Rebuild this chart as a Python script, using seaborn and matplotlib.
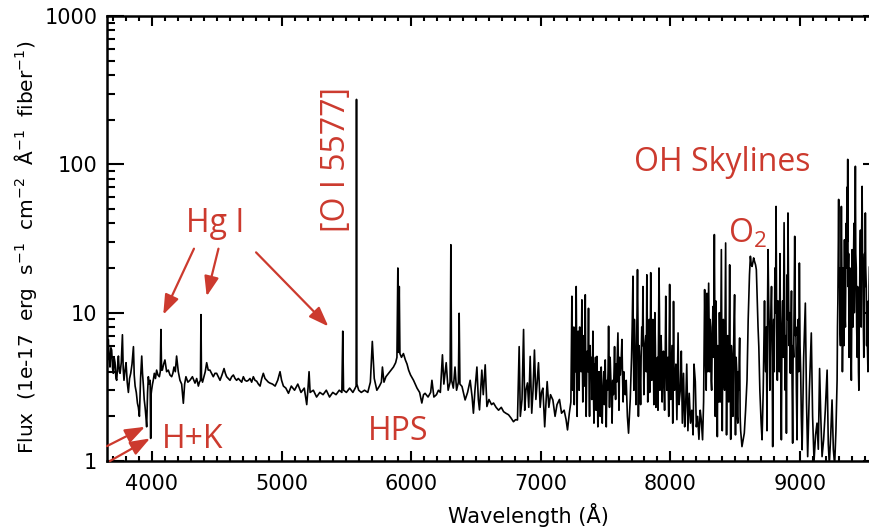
import matplotlib
matplotlib.use('Agg')
import matplotlib.pyplot as plt
import matplotlib.ticker as mticker
import seaborn as sns
import pandas as pd

# ---------------------------------------- spectrum ----------------------------------------
# wavelength (Angstrom) and flux (1e-17 erg/s/cm2/A/fiber), one piece of the spectrum per pair of lists

blue_wave = [3651, 3657, 3663, 3670, 3676, 3683, 3689, 3696, 3702, 3708,
             3715, 3722, 3728, 3735, 3741, 3748, 3754, 3763, 3772, 3778,
             3784, 3792, 3800, 3809, 3818, 3827, 3836, 3846, 3857, 3863,
             3870, 3879, 3888, 3895, 3903, 3912, 3921, 3927, 3934, 3940,
             3947, 3953, 3959, 3966, 3972, 3978, 3986, 3988, 3990, 3993,
             3997, 4004, 4010, 4018, 4027, 4036, 4046, 4057, 4064, 4069,
             4074, 4080, 4090, 4100, 4113, 4126, 4139, 4152, 4161, 4170,
             4180, 4190, 4203, 4216, 4229, 4242, 4252, 4262, 4277, 4293,
             4312, 4332, 4345, 4358, 4366, 4374, 4378, 4382, 4390, 4401,
             4411, 4422, 4434, 4447, 4460, 4473, 4486, 4499, 4512, 4525,
             4540, 4556, 4566, 4576, 4589, 4602, 4615, 4628, 4641, 4653,
             4666, 4679, 4692, 4705, 4718, 4731, 4744, 4756, 4769, 4782,
             4795, 4808, 4821, 4834, 4847, 4859, 4872, 4885, 4898, 4911,
             4930, 4950, 4970, 4988, 5000, 5014, 5033]
blue_flux = [5.9, 4.8, 6.6, 4.9, 4.3, 5.8, 5.6, 4.2, 3.9, 5.0,
             4.6, 3.6, 3.5, 4.4, 5.1, 4.0, 3.9, 4.6, 7.1, 4.2,
             3.5, 4.1, 4.6, 3.4, 2.9, 3.6, 3.9, 4.5, 5.9, 3.8,
             3.2, 2.9, 2.45, 2.3, 2.0, 3.6, 5.1, 3.9, 3.2, 2.6,
             2.3, 2.0, 1.7, 2.9, 3.7, 3.3, 3.5, 2.2, 1.42, 2.8,
             3.0, 3.3, 3.5, 3.9, 3.6, 4.1, 3.8, 3.7, 4.0, 7.7,
             4.1, 4.1, 4.5, 4.8, 4.0, 4.1, 3.8, 3.7, 3.9, 4.3,
             4.0, 5.1, 4.0, 3.5, 3.3, 2.45, 3.3, 3.7, 3.4, 3.5,
             3.7, 3.35, 3.6, 3.2, 3.4, 3.5, 9.7, 3.6, 3.4, 3.7,
             4.0, 4.6, 4.1, 4.1, 3.9, 3.7, 3.9, 3.9, 3.7, 3.5,
             3.8, 4.2, 3.9, 3.7, 3.6, 3.5, 3.7, 3.8, 3.6, 3.5,
             3.6, 3.5, 3.4, 3.7, 3.5, 3.45, 3.5, 3.6, 3.4, 3.7,
             3.5, 3.45, 3.3, 3.2, 3.6, 3.9, 3.6, 3.5, 3.4, 3.35,
             3.3, 3.2, 3.5, 4.0, 3.5, 3.2, 3.1]

green_wave = [5053, 5075, 5100, 5125, 5150, 5175, 5194, 5204, 5212, 5220,
              5245, 5270, 5295, 5320, 5345, 5370, 5395, 5420, 5445, 5465,
              5472, 5478, 5500, 5525, 5550, 5568, 5575, 5578, 5581, 5595,
              5615, 5640, 5665, 5685, 5700, 5715, 5735, 5755, 5770, 5778,
              5790, 5805, 5825, 5845, 5863, 5880, 5890, 5897, 5902, 5908,
              5913, 5925, 5940, 5955, 5968, 5980, 5995, 6018, 6045, 6065,
              6082, 6095, 6107, 6130, 6150, 6160, 6175, 6195, 6210, 6225,
              6241, 6252, 6270, 6285, 6300, 6306, 6312, 6325, 6338, 6350,
              6364, 6370, 6376, 6392, 6416, 6435, 6455, 6470, 6480]
green_flux = [2.86, 3.2, 3.0, 3.3, 2.9, 3.1, 2.4, 3.1, 4.0, 2.9,
              3.0, 2.7, 2.9, 2.8, 3.0, 2.7, 2.9, 2.8, 3.0, 2.9,
              7.5, 3.0, 2.9, 3.1, 2.9, 3.1, 3.2, 274, 3.3, 3.0,
              2.9, 3.0, 2.9, 3.4, 6.4, 3.6, 3.0, 3.2, 3.4, 4.3,
              3.4, 3.7, 3.9, 4.1, 4.3, 4.6, 5.0, 20, 5.4, 15,
              5.3, 5.0, 5.3, 4.8, 4.5, 4.1, 3.8, 3.5, 3.1, 2.9,
              2.46, 2.8, 2.86, 2.7, 2.9, 3.5, 2.7, 2.8, 3.0, 2.9,
              5.2, 3.3, 4.6, 3.0, 3.4, 28.7, 3.5, 3.1, 4.3, 3.0,
              3.4, 9.9, 3.3, 3.18, 2.58, 2.9, 3.5, 2.7, 2.1]

red_wave = [6492, 6507, 6518, 6527, 6545, 6556, 6571, 6584, 6600, 6620,
            6635, 6655, 6674, 6695, 6713, 6730, 6751, 6770, 6789, 6805,
            6820, 6833, 6842, 6855, 6867, 6876, 6885, 6897, 6907, 6918,
            6930, 6940, 6951, 6962, 6972, 6982, 6995, 7005, 7016, 7030,
            7049, 7062, 7075, 7093, 7110, 7125, 7144, 7160, 7180, 7195,
            7206, 7220, 7232]
red_flux = [3.0, 4.3, 2.6, 2.21, 4.1, 2.8, 4.45, 2.33, 2.6, 2.4,
            2.46, 2.3, 2.2, 2.3, 2.15, 2.1, 2.05, 1.95, 1.84, 1.9,
            1.89, 5.9, 2.0, 2.6, 7.7, 2.2, 3.0, 3.36, 2.3, 5.07,
            2.1, 3.0, 5.6, 2.6, 3.4, 4.6, 2.3, 2.9, 3.1, 1.7,
            3.43, 2.3, 2.8, 2.58, 2.0, 2.4, 2.6, 2.1, 2.2, 1.9,
            1.62, 2.1, 2.5]

# OH forest: the strongest lines and the gaps between them
oh1_wave = [7240, 7246, 7252, 7258, 7265, 7273, 7280, 7288, 7296, 7305,
            7317, 7324, 7330, 7337, 7343, 7350, 7358, 7368, 7376, 7384,
            7393, 7402, 7410, 7418, 7426, 7433, 7440, 7450, 7458, 7466,
            7474, 7482, 7490, 7497, 7505, 7515, 7523, 7530, 7540, 7550,
            7560, 7569, 7577, 7585, 7595, 7603, 7613, 7626, 7635, 7645,
            7659, 7668, 7677, 7690, 7700, 7711, 7718, 7726, 7734, 7746,
            7753, 7760, 7770, 7779, 7788, 7795, 7803, 7818, 7825, 7833,
            7840, 7848, 7856, 7865, 7872, 7880, 7888, 7896, 7904, 7912,
            7919, 7928, 7936, 7946, 7955, 7964, 7972, 7980, 7987, 7994,
            8002, 8012, 8018, 8024, 8032, 8042, 8050, 8059, 8066, 8076,
            8084, 8092, 8101, 8110, 8118, 8126, 8135, 8145, 8155, 8165,
            8175, 8182, 8192, 8200, 8210, 8220, 8230, 8238, 8248, 8256,
            8264, 8270, 8276, 8282, 8288, 8295]
oh1_flux = [12.9, 3.0, 4.5, 2.4, 6.5, 15, 2.0, 7.5, 3.0, 5.0,
            12.2, 2.5, 6.0, 3.2, 13.2, 2.0, 5.5, 10.7, 2.0, 4.0,
            2.6, 7.5, 1.8, 3.5, 2.2, 5.07, 1.7, 3.0, 2.0, 4.3,
            1.8, 3.2, 2.4, 4.8, 1.7, 3.0, 8.1, 2.3, 3.6, 1.8,
            2.8, 5.9, 2.6, 3.4, 7.3, 2.2, 3.8, 6.6, 2.5, 3.2,
            3.5, 2.0, 1.54, 2.6, 5.0, 17.6, 3.0, 6.0, 2.4, 19.5,
            2.0, 5.5, 2.4, 8.0, 15, 2.8, 6.0, 18, 2.5, 6.5,
            2.9, 18.6, 3.5, 9.0, 2.4, 10, 2.3, 4.0, 2.2, 20,
            3.0, 7.0, 2.5, 5.5, 2.2, 12.9, 3.0, 5.0, 2.0, 15.5,
            2.6, 6.0, 1.8, 11.9, 3.0, 4.5, 1.9, 7.3, 2.4, 3.0,
            5.5, 1.8, 3.9, 1.7, 2.4, 4.5, 1.6, 2.86, 1.8, 2.2,
            1.5, 4.5, 3.43, 1.7, 2.0, 1.4, 2.2, 1.89, 1.39, 2.5,
            14.3, 5.0, 3.0, 13.5, 4.0, 15.8]

oh2_wave = [8302, 8310, 8318, 8328, 8339, 8346, 8355, 8362, 8370, 8378,
            8385, 8393, 8400, 8408, 8418, 8426, 8433, 8442, 8450, 8457,
            8465, 8474, 8482, 8490, 8495, 8502, 8512, 8520, 8528, 8534,
            8542, 8552, 8562, 8570, 8580, 8591, 8600, 8610, 8617, 8624,
            8630, 8637, 8642, 8650, 8657, 8663, 8670, 8676, 8682, 8690,
            8700, 8707, 8716, 8726, 8735, 8745, 8753, 8762, 8771, 8780,
            8789, 8797, 8806, 8815, 8825, 8835, 8845, 8856, 8866, 8877,
            8886, 8895, 8901, 8907, 8916, 8925, 8934, 8943, 8951, 8959,
            8968, 8977, 8986, 8995, 9005, 9016, 9028, 9041, 9050, 9059,
            9072, 9087, 9097, 9108, 9120, 9131, 9141, 9151, 9160, 9170,
            9182, 9195, 9209, 9218, 9226, 9237, 9247, 9257, 9267, 9277,
            9286, 9292, 9298, 9305, 9312, 9319, 9324, 9329, 9336, 9343,
            9350, 9356, 9362, 9368, 9375, 9382, 9389, 9396, 9402, 9409,
            9416, 9422, 9427, 9434, 9441, 9448, 9454, 9460, 9466, 9472,
            9479, 9486, 9492, 9498, 9504, 9511, 9517, 9524, 9530, 9537,
            9543, 9550]
oh2_flux = [4.0, 8.0, 3.0, 11, 33.6, 2.0, 6.0, 1.46, 5.0, 10,
            2.5, 26.6, 1.6, 9.0, 3.0, 29.5, 1.5, 7.0, 2.5, 21,
            1.4, 5.0, 2.0, 8.0, 13.2, 1.5, 4.0, 1.8, 3.0, 6.75,
            1.6, 1.25, 1.4, 1.54, 2.2, 3.5, 9.0, 18, 24, 21,
            20.5, 22, 23.4, 22, 21, 19.5, 12, 8.0, 5.9, 3.0,
            1.8, 1.39, 3.0, 12, 4.0, 1.6, 26.6, 8.0, 6.57, 15,
            1.25, 9.0, 20, 52, 3.5, 7.3, 25, 1.39, 12, 40.4,
            3.0, 1.54, 18, 47, 6.0, 3.91, 14, 1.32, 5.0, 32.7,
            8.0, 1.39, 9.0, 21.6, 4.0, 1.19, 5.0, 11.6, 2.5, 1.07,
            3.0, 7.3, 2.0, 1.0, 1.5, 1.8, 1.2, 4.2, 2.0, 1.07,
            1.39, 2.2, 4.1, 1.3, 0.95, 1.5, 2.58, 1.2, 0.94, 1.6,
            3.5, 12, 58, 20, 6.0, 52, 14, 5.9, 12, 31,
            8.0, 40, 70, 108, 25, 6.0, 12.9, 3.5, 26.6, 8.0,
            40, 15, 97, 20, 5.0, 12.2, 3.0, 14, 36, 8.0,
            71, 20, 5.0, 25, 47, 15, 11, 4.0, 9.0, 20.5,
            20.5, 8.0]

# weaker OH lines that fill the dark bands between the strong ones
fill1_wave = [7243, 7249, 7255, 7262, 7269, 7276, 7284, 7292, 7300, 7311,
              7320, 7327, 7334, 7340, 7346, 7354, 7363, 7372, 7380, 7389,
              7398, 7406, 7414, 7422, 7430, 7437, 7445, 7454, 7462, 7470,
              7478, 7486, 7494, 7501, 7510, 7519, 7527, 7535, 7545, 7555,
              7565, 7573, 7581, 7590, 7599, 7608, 7619, 7630, 7640, 7652]
fill1_flux = [5.0, 6.0, 8.0, 5.0, 4.0, 6.0, 5.0, 4.0, 8.0, 4.0,
              5.0, 7.0, 4.0, 6.0, 5.0, 4.0, 4.0, 4.0, 6.0, 5.0,
              4.0, 3.0, 4.5, 5.0, 4.0, 3.0, 4.0, 4.0, 3.5, 3.0,
              3.0, 4.0, 3.0, 3.0, 3.5, 4.0, 4.0, 5.0, 3.0, 3.5,
              4.0, 3.5, 4.5, 5.0, 4.0, 5.0, 4.5, 4.0, 4.0, 2.8]

fill2_wave = [7705, 7714, 7722, 7730, 7740, 7750, 7757, 7765, 7774, 7784,
              7791, 7799, 7810, 7814, 7822, 7829, 7837, 7844, 7852, 7860,
              7868, 7876, 7884, 7892, 7900, 7908, 7916, 7924, 7932, 7941,
              7950, 7960, 7968, 7976, 7984, 7990, 7998, 8007, 8015, 8021,
              8028, 8037, 8046, 8054]
fill2_flux = [8.0, 6.0, 9.0, 4.0, 7.0, 8.0, 6.0, 4.0, 5.0, 6.0,
              7.0, 4.0, 7.0, 4.0, 8.0, 4.0, 9.0, 5.0, 8.0, 4.0,
              6.0, 5.0, 6.0, 4.5, 5.0, 6.0, 9.0, 4.0, 5.0, 4.0,
              3.5, 5.0, 6.0, 4.0, 3.0, 6.0, 5.0, 4.0, 3.0, 5.0,
              4.0, 3.5, 3.0, 3.5]

fill3_wave = [8306, 8314, 8323, 8333, 8343, 8350, 8359, 8366, 8374, 8382,
              8389, 8397, 8404, 8413, 8422, 8430, 8438, 8446, 8454, 8461,
              8470, 8478, 8486, 8499, 8507, 8516, 8524, 8531, 8538]
fill3_flux = [9.0, 3.5, 7.0, 5.0, 8.0, 12, 3.0, 6.0, 2.5, 5.5,
              9.0, 5.0, 6.0, 3.5, 10, 6.0, 5.0, 3.0, 9.0, 4.0,
              6.0, 2.5, 5.0, 3.0, 5.0, 2.0, 4.0, 5.0, 2.0]

fill4_wave = [8721, 8731, 8740, 8749, 8758, 8767, 8776, 8785, 8793, 8801,
              8811, 8820, 8830, 8840, 8850, 8861, 8871, 8882, 8891, 8898,
              8904, 8912, 8920, 8930, 8938, 8947, 8955, 8964, 8972, 8981,
              8990, 9000, 9010]
fill4_flux = [6.0, 5.0, 8.0, 10, 12, 3.0, 10, 5.0, 6.0, 4.0,
              10, 8.0, 12, 4.0, 6.0, 8.0, 5.0, 10, 7.0, 6.0,
              9.0, 12, 10, 8.0, 4.0, 6.0, 12, 7.0, 3.0, 5.0,
              4.0, 6.0, 2.0]

fill5_wave = [9289, 9295, 9301, 9308, 9315, 9322, 9327, 9332, 9339, 9346,
              9353, 9359, 9365, 9371, 9378, 9385, 9392, 9399, 9405, 9412,
              9419, 9424, 9430, 9437, 9444, 9451, 9457, 9463, 9469, 9475,
              9482, 9489, 9495, 9501, 9507, 9514, 9520, 9527, 9533, 9540,
              9546]
fill5_flux = [8.0, 25, 15, 8.0, 18, 25, 4.0, 20, 6.0, 10,
              18, 20, 30, 15, 5.0, 20, 6.0, 10, 12, 20,
              10, 30, 25, 8.0, 15, 4.0, 10, 25, 10, 30,
              25, 8.0, 12, 15, 20, 6.0, 6.0, 12, 15, 10,
              12]

# ---------------------------------------- plot ----------------------------------------

sns.set_style('ticks')
plt.rcParams['font.family'] = ['DejaVu Sans']
for key in ['text.color', 'axes.labelcolor', 'xtick.color', 'ytick.color', 'axes.edgecolor']:
    plt.rcParams[key] = 'black'
red = '#cc3a2e'
note_font = 'Open Sans'

df = pd.DataFrame({
    'wave': blue_wave + green_wave + red_wave + oh1_wave + oh2_wave
            + fill1_wave + fill2_wave + fill3_wave + fill4_wave + fill5_wave,
    'flux': blue_flux + green_flux + red_flux + oh1_flux + oh2_flux
            + fill1_flux + fill2_flux + fill3_flux + fill4_flux + fill5_flux,
})
df = df.sort_values('wave')

fig = plt.figure(figsize=(8.7, 5.32), dpi=100)
ax = fig.add_axes([107 / 870, 71 / 532, 773 / 870, 445 / 532])

sns.lineplot(data=df, x='wave', y='flux', color='black', lw=1.2,
             estimator=None, sort=False, ax=ax)

ax.set_yscale('log')
ax.set_xlim(3653, 9617)
ax.set_ylim(1, 1000)

ax.xaxis.set_major_locator(mticker.MultipleLocator(1000))
ax.xaxis.set_minor_locator(mticker.MultipleLocator(100))
ax.yaxis.set_major_formatter(mticker.FuncFormatter(lambda v, _: f'{v:g}'))
ax.yaxis.set_minor_formatter(mticker.NullFormatter())

ax.tick_params(which='both', direction='in', top=True, right=True, width=1.5, color='black')
ax.tick_params(axis='x', which='major', length=7, pad=9, labelsize=15)
ax.tick_params(axis='x', which='minor', length=3.5)
ax.tick_params(axis='y', which='major', length=12, pad=7, labelsize=15)
ax.tick_params(axis='y', which='minor', length=6)
for s in ax.spines.values():
    s.set_linewidth(1.8)
    s.set_color('black')

ax.set_xlabel('Wavelength (Å)', fontsize=15)
ax.set_ylabel('Flux  (1e-17  erg  s$^{-1}$  cm$^{-2}$  Å$^{-1}$  fiber$^{-1}$)', fontsize=14.5,
              ha='center', va='center')
ax.xaxis.set_label_coords(0.545, -0.095)
ax.yaxis.set_label_coords(-0.106, 0.481)

# red notes
ax.text(4486, 34.8, 'Hg I', color=red, fontsize=23, family=note_font, ha='center', va='baseline')
ax.text(5420, 108, '[O I 5577]', color=red, fontsize=23, family=note_font,
        rotation=90, ha='center', va='center')
ax.text(8400, 90, 'OH Skylines', color=red, fontsize=23, family=note_font, ha='center', va='baseline')
ax.text(8447, 29.8, 'O$_\\mathregular{2}$', color=red, fontsize=23, family=note_font, ha='left', va='baseline')
ax.text(5903, 1.39, 'HPS', color=red, fontsize=23, family=note_font, ha='center', va='baseline')
ax.text(4317, 1.22, 'H+K', color=red, fontsize=23, family=note_font, ha='center', va='baseline')

arrow_style = dict(arrowstyle='-|>,head_length=0.6,head_width=0.22', color=red, lw=1.6,
                   mutation_scale=20, shrinkA=0, shrinkB=0)
arrows = [((4324, 27.0), (4087, 9.7)),
          ((4513, 27.0), (4422, 12.9)),
          ((4803, 25.5), (5361, 8.08)),
          ((3653, 1.26), (3946, 1.7)),
          ((3676, 1.0), (3985, 1.42))]
for start, end in arrows:
    ax.annotate('', xy=end, xytext=start, arrowprops=arrow_style, annotation_clip=False)

plt.savefig('out.png', dpi=100)
plt.close()
